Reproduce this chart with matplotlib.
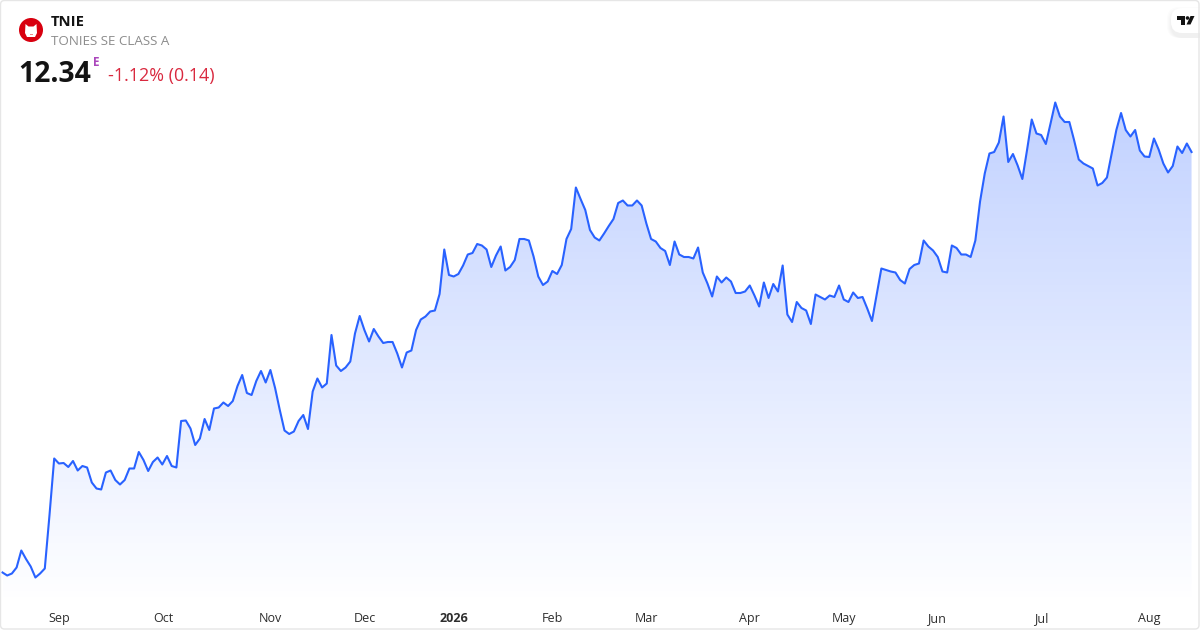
import numpy as np
import matplotlib
matplotlib.use("Agg")
import matplotlib.pyplot as plt
from matplotlib.colors import LinearSegmentedColormap
from matplotlib.patches import Circle, FancyBboxPatch, Polygon, Rectangle

plt.rcParams['font.family'] = ['Open Sans', 'DejaVu Sans']

prices = [
    3.93, 3.87, 3.91, 4.03, 4.37, 4.20, 4.05, 3.83, 3.91, 4.01,
    5.08, 6.21, 6.11, 6.12, 6.04, 6.16, 5.97, 6.06, 6.03, 5.73,
    5.61, 5.59, 5.93, 5.97, 5.78, 5.69, 5.78, 6.01, 6.01, 6.34,
    6.18, 5.96, 6.14, 6.23, 6.09, 6.26, 6.06, 6.03, 6.96, 6.97,
    6.81, 6.48, 6.61, 7.00, 6.78, 7.21, 7.23, 7.33, 7.26, 7.36,
    7.66, 7.88, 7.52, 7.48, 7.76, 7.96, 7.73, 7.98, 7.62, 7.18,
    6.77, 6.70, 6.75, 6.96, 7.08, 6.80, 7.55, 7.81, 7.63, 7.71,
    8.68, 8.07, 7.96, 8.03, 8.15, 8.71, 9.06, 8.78, 8.55, 8.80,
    8.65, 8.52, 8.54, 8.54, 8.31, 8.03, 8.33, 8.37, 8.78, 8.99,
    9.05, 9.15, 9.17, 9.50, 10.39, 9.88, 9.85, 9.90, 10.07, 10.29,
    10.32, 10.50, 10.47, 10.39, 10.04, 10.27, 10.45, 9.97, 10.04, 10.18,
    10.60, 10.60, 10.57, 10.25, 9.85, 9.68, 9.75, 9.96, 9.90, 10.08,
    10.60, 10.80, 11.63, 11.40, 11.18, 10.78, 10.63, 10.57, 10.71, 10.86,
    11.00, 11.32, 11.37, 11.27, 11.27, 11.37, 11.27, 10.91, 10.60, 10.55,
    10.42, 10.36, 10.08, 10.55, 10.29, 10.24, 10.24, 10.21, 10.43, 9.93,
    9.71, 9.45, 9.85, 9.73, 9.83, 9.75, 9.52, 9.52, 9.55, 9.67,
    9.47, 9.25, 9.73, 9.42, 9.70, 9.55, 10.07, 9.09, 8.94, 9.34,
    9.22, 9.17, 8.90, 9.49, 9.44, 9.39, 9.47, 9.44, 9.67, 9.39,
    9.34, 9.53, 9.42, 9.44, 9.21, 8.96, 9.48, 10.01, 9.98, 9.95,
    9.93, 9.78, 9.71, 10.00, 10.08, 10.11, 10.57, 10.45, 10.37, 10.24,
    9.95, 9.93, 10.47, 10.42, 10.29, 10.29, 10.24, 10.57, 11.35, 11.91,
    12.31, 12.34, 12.53, 13.05, 12.14, 12.30, 12.07, 11.80, 12.38, 12.99,
    12.71, 12.68, 12.50, 12.91, 13.33, 13.05, 12.94, 12.94, 12.58, 12.19,
    12.11, 12.06, 12.01, 11.67, 11.72, 11.83, 12.31, 12.78, 13.12, 12.78,
    12.65, 12.78, 12.37, 12.25, 12.24, 12.61, 12.39, 12.11, 11.93, 12.06,
    12.45, 12.32, 12.51, 12.34,
]
month_ticks = [12, 34.2, 57, 77, 96, 117, 137, 159, 179, 198.7, 221, 244]
month_labels = ['Sep', 'Oct', 'Nov', 'Dec', '2026', 'Feb', 'Mar', 'Apr', 'May', 'Jun', 'Jul', 'Aug']
area_floor = 3.28

BLUE = '#2962ff'
W, H = 1200, 630

fig = plt.figure(figsize=(W / 100, H / 100), dpi=100, facecolor='white')
ax = fig.add_axes([0, 0, 1, 1])
x = np.arange(len(prices))

# Gradient area under the line
cmap = LinearSegmentedColormap.from_list(
    'area', [(0.161, 0.384, 1.0, 0.29), (0.161, 0.384, 1.0, 0.0)])
top = max(prices)
grad = np.linspace(0, 1, 256).reshape(-1, 1)
im = ax.imshow(grad, cmap=cmap, aspect='auto', origin='upper',
               extent=[x[0], x[-1], area_floor, top], zorder=1)
poly = ax.fill_between(x, prices, area_floor, facecolor='none', edgecolor='none')
im.set_clip_path(poly.get_paths()[0], transform=ax.transData)
ax.set_xlim(-0.532, 254.8)
ax.set_ylim(2.78, 15.38)

ax.plot(x, prices, color=BLUE, lw=1.5, solid_joinstyle='round', zorder=3)

for s in ax.spines.values():
    s.set_visible(False)
ax.set_yticks([])
ax.set_xticks(month_ticks)
ax.set_xticklabels(month_labels, fontsize=9, color='#2e2e2e')
ax.tick_params(axis='x', length=0, pad=-13, direction='in')
for lab, text in zip(ax.get_xticklabels(), month_labels):
    if text == '2026':
        lab.set_fontweight('bold')

# Overlay in pixel coordinates for the header furniture
ov = fig.add_axes([0, 0, 1, 1], facecolor='none', zorder=5)
ov.set_xlim(0, W)
ov.set_ylim(H, 0)
ov.axis('off')

# Logo
ov.add_patch(Circle((31, 30), 12, fc='#d8000f', ec='none'))
ov.add_patch(Polygon([(25.5, 24), (28.5, 26.5), (33.5, 26.5), (36.5, 24), (37, 33),
                      (35, 37), (27, 37), (25, 33)], closed=True, fc='white', ec='none'))
ov.add_patch(Rectangle((29.5, 33.5), 3, 1, fc='#e88', ec='none'))

ov.text(51, 22, 'TNIE', fontsize=10.6, fontweight='bold', color='#131313', va='center', ha='left')
ov.text(51, 41.5, 'TONIES SE CLASS A', fontsize=9.6, color='#8c8c8c', va='center', ha='left')
ov.text(18.5, 74, '12.34', fontsize=20.3, fontweight='bold', color='#131313', va='center', ha='left')
ov.text(93, 62, 'E', fontsize=8.5, fontweight='bold', color='#ab47bc', va='center', ha='left')
ov.text(108, 76, '-1.12% (0.14)', fontsize=12.85, color='#d9293f', va='center', ha='left')

# TradingView badge
for i in range(5):
    ov.add_patch(FancyBboxPatch((1171 - 4 + i, 8 - 1 + i), 60, 31 - i, boxstyle='round,pad=0,rounding_size=12',
                                fc='black', ec='none', alpha=0.012))
ov.add_patch(FancyBboxPatch((1171, 8), 60, 25, boxstyle='round,pad=0,rounding_size=11',
                            fc='white', ec='none'))
ov.add_patch(Polygon([(1177, 16), (1185, 16), (1185, 24.5), (1181, 24.5), (1181, 19.5), (1177, 19.5)],
                     closed=True, fc='#131313', ec='none'))
ov.add_patch(Circle((1187.5, 18), 1.8, fc='#131313', ec='none'))
ov.add_patch(Polygon([(1190.5, 16), (1194.5, 16), (1190.5, 24.5), (1186.5, 24.5)],
                     closed=True, fc='#131313', ec='none'))

# Card border
ov.add_patch(FancyBboxPatch((0.5, 0.5), W - 1.5, H - 1.5, boxstyle='round,pad=0,rounding_size=4',
                            fc='none', ec='#e6e6e6', lw=1.0))

fig.savefig('out.png', dpi=100, facecolor='white')
